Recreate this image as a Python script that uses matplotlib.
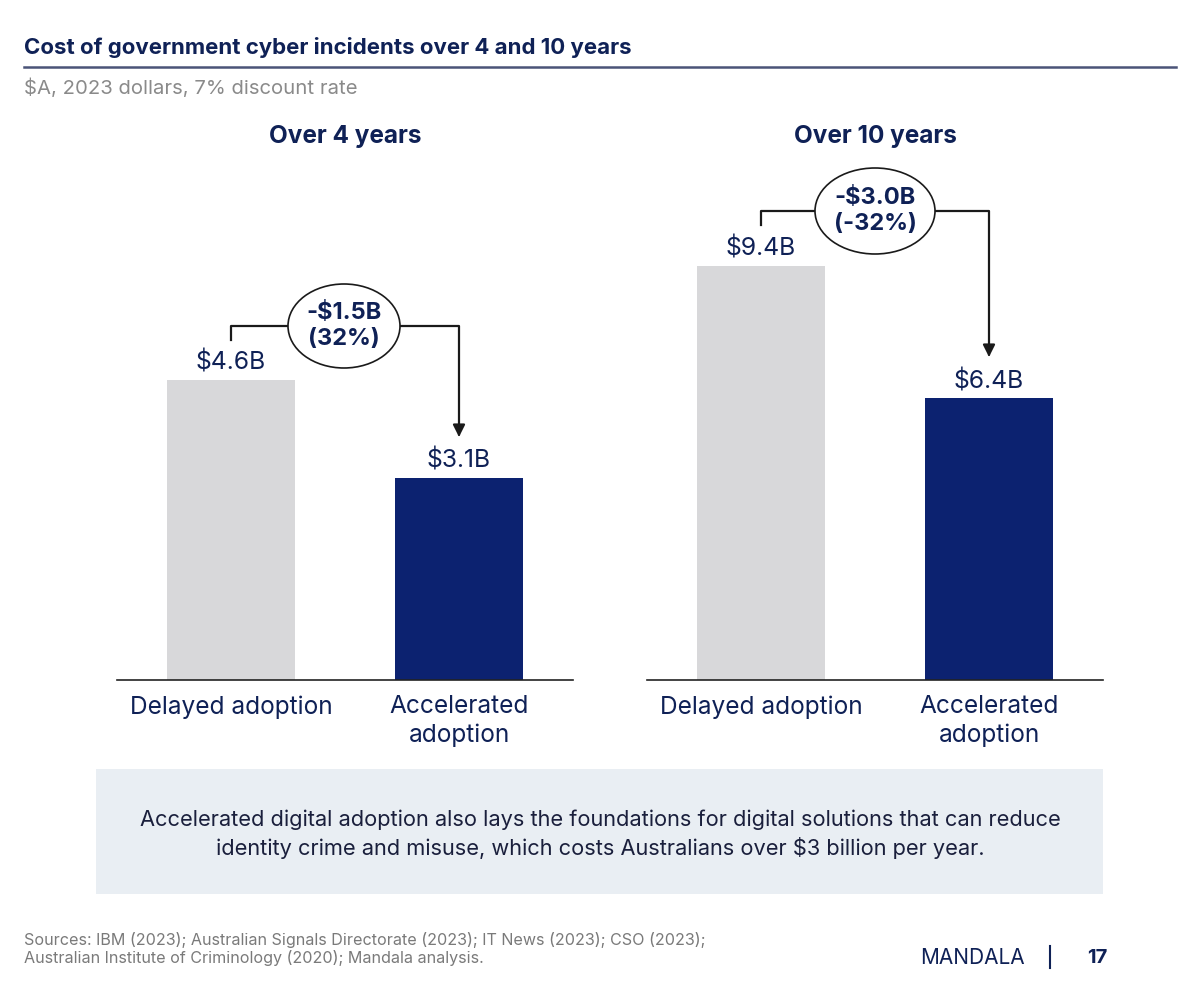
import matplotlib.pyplot as plt
from matplotlib.patches import Ellipse, Rectangle
from matplotlib.transforms import ScaledTranslation

plt.rcParams['font.family'] = ['Inter', 'DejaVu Sans']

# data
categories = ['Delayed adoption', 'Accelerated\nadoption']
panel_titles = ['Over 4 years', 'Over 10 years']
cost_4yr = [4.6, 3.1]
cost_10yr = [9.4, 6.4]
diff_labels = ['-$1.5B\n(32%)', '-$3.0B\n(-32%)']

navy = '#0c2270'
grey = '#d8d8da'
text_navy = '#0f2156'

W, H = 1204, 1002
fig = plt.figure(figsize=(W / 100, H / 100), dpi=100)
fig.patch.set_facecolor('white')


def px_axes(x0, y0, x1, y1):
    # pixel box (top-left origin) -> figure axes
    return fig.add_axes([x0 / W, 1 - y1 / H, (x1 - x0) / W, (y1 - y0) / H])


# header
fig.text(24 / W, 1 - 48 / H, 'Cost of government cyber incidents over 4 and 10 years',
         fontsize=16, fontweight='bold', color=text_navy, va='center', ha='left')
fig.add_artist(plt.Line2D([24 / W, 1176 / W], [1 - 67 / H, 1 - 67 / H], color='#4a5478', lw=1.8))
fig.text(24 / W, 1 - 88 / H, '$A, 2023 dollars, 7% discount rate',
         fontsize=14.6, color='#8a8a8a', va='center', ha='left')

# panel settings: axes left px, values, bracket y px, tick bottom px, arrow tip px, ellipse centre x, w, h
panels = [
    (117, cost_4yr, 326, 340, 437, 344, 112, 84),
    (647, cost_10yr, 211, 225, 357, 875, 120, 86),
]

top_px, base_px = 160, 680
for i, (x0, vals, br_px, tick_px, tip_px, ecx_px, ew, eh) in enumerate(panels):
    ax = px_axes(x0, top_px, x0 + 456, base_px)
    # scale so the tallest bar top sits where it does in the reference
    top_bar_px = 380 if i == 0 else 266
    ppu = (base_px - top_bar_px) / vals[0]
    ax.set_xlim(-0.5, 1.5)
    ax.set_ylim(0, (base_px - top_px) / ppu)

    def py(p):
        return (base_px - p) / ppu

    xs = [0, 1]
    ax.bar(xs, vals, width=0.56, color=[grey, navy], zorder=2)
    for x, v in zip(xs, vals):
        ax.text(x, v, f'${v}B', ha='center', va='bottom', fontsize=17.8, color=text_navy,
                transform=ax.transData + ScaledTranslation(0, 5 / 100, fig.dpi_scale_trans))

    for s in ['top', 'right', 'left']:
        ax.spines[s].set_visible(False)
    ax.spines['bottom'].set_color('#222222')
    ax.spines['bottom'].set_linewidth(1.2)
    ax.set_yticks([])
    ax.set_xticks(xs)
    ax.set_xticklabels(categories, fontsize=17.6, color=text_navy, linespacing=1.3, va='top')
    ax.tick_params(axis='x', length=0, pad=11)
    ax.text(0.5, (base_px - 137) / (base_px - top_px), panel_titles[i], transform=ax.transAxes,
            ha='center', va='center', fontsize=17.5, fontweight='bold', color=text_navy)

    # bracket connector with ellipse label
    yb = py(br_px)
    ecx = (ecx_px - x0 - 114) / 228
    half = ew / 2 / 228
    ax.plot([0, 0, ecx - half], [py(tick_px), yb, yb], color='#1a1a1a', lw=1.6, zorder=3)
    ax.annotate('', xy=(1, py(tip_px)), xytext=(ecx + half, yb),
                arrowprops=dict(arrowstyle='-|>', color='#1a1a1a', lw=1.6,
                                connectionstyle='angle,angleA=0,angleB=90,rad=0',
                                mutation_scale=18, shrinkA=0, shrinkB=0))
    ell = Ellipse((0, 0), ew / 100, eh / 100, facecolor='white', edgecolor='#1a1a1a', lw=1.2,
                  transform=fig.dpi_scale_trans + ScaledTranslation(ecx, yb, ax.transData),
                  zorder=4, clip_on=False)
    ax.add_patch(ell)
    ax.text(ecx, yb, diff_labels[i], ha='center', va='center', fontsize=17, fontweight='bold',
            color=text_navy, linespacing=1.2, zorder=5)

# callout box
fig.add_artist(Rectangle((96 / W, 1 - 894 / H), (1103 - 96) / W, (894 - 769) / H,
                         transform=fig.transFigure, facecolor='#e9eef3', edgecolor='none'))
fig.text(600 / W, 1 - 834 / H,
         'Accelerated digital adoption also lays the foundations for digital solutions that can reduce\n'
         'identity crime and misuse, which costs Australians over $3 billion per year.',
         ha='center', va='center', fontsize=15.7, color='#1a1f3c', linespacing=1.4)

# footer
fig.text(24 / W, 1 - 949 / H,
         'Sources: IBM (2023); Australian Signals Directorate (2023); IT News (2023); CSO (2023);\n'
         'Australian Institute of Criminology (2020); Mandala analysis.',
         ha='left', va='center', fontsize=11.6, color='#7a7a7a', linespacing=1.15)
fig.text(1025 / W, 1 - 958 / H, 'MANDALA', ha='right', va='center', fontsize=15, color=text_navy)
fig.add_artist(plt.Line2D([1050 / W, 1050 / W], [1 - 946 / H, 1 - 968 / H], color=text_navy, lw=1.5))
fig.text(1107 / W, 1 - 958 / H, '17', ha='right', va='center', fontsize=14.5, fontweight='bold',
         color=text_navy)

fig.savefig('out.png', dpi=100, facecolor='white')
